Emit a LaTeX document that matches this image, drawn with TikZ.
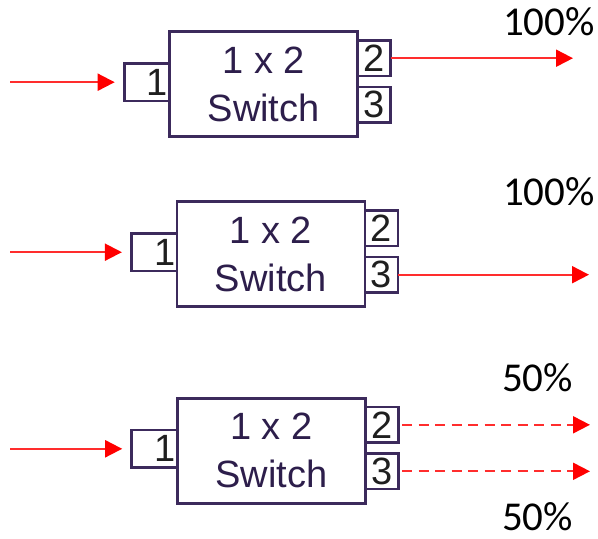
\documentclass[tikz,border=0pt]{standalone}
\usepackage{fontspec}
\setmainfont{Liberation Sans}
\newfontfamily\calib{Carlito}
\usetikzlibrary{arrows.meta}
\definecolor{boxline}{RGB}{60,42,92}
\definecolor{boxtext}{RGB}{45,30,75}
\definecolor{arrowred}{RGB}{255,0,0}
\definecolor{linered}{RGB}{255,45,45}
\tikzset{
  switchbox/.style={draw=boxline, line width=2.7pt, fill=white, outer sep=0pt,
    minimum width=188pt, minimum height=105pt, inner sep=0pt, align=center,
    text=boxtext, font=\fontsize{38}{48}\selectfont},
  inport/.style={draw=boxline, line width=2.7pt, fill=white, outer sep=0pt,
    minimum width=45.5pt, minimum height=37.5pt, inner sep=0pt, text width=42pt,
    align=right, font=\fontsize{38}{38}\selectfont, text=black!88},
  outport/.style={draw=boxline, line width=2.7pt, fill=white, outer sep=0pt,
    minimum width=33pt, minimum height=35.5pt, inner sep=0pt,
    font=\fontsize{38}{38}\selectfont, text=black!88},
  beam/.style={draw=linered, line width=2pt,
    -{Triangle[length=17pt,width=17pt,color=arrowred]}},
  splitbeam/.style={beam, dash pattern=on 10pt off 6.5pt},
  pct/.style={anchor=base west, inner sep=0pt, font=\calib\fontsize{41}{41}\selectfont},
}
\begin{document}
\begin{tikzpicture}[x=1pt,y=-1pt]
\useasboundingbox (0,0) rectangle (598,539);

% top switch
\node[switchbox] (A) at (263.7,84.2) {1 x 2\\Switch};
\node[inport, anchor=east] (a1) at ([yshift=2pt]A.west) {1};
\node[outport, anchor=west] (a2) at ([yshift=26pt]A.east) {2};
\node[outport, anchor=west] (a3) at ([yshift=-20.5pt]A.east) {3};

% middle switch
\node[switchbox] (B) at (270.9,254.2) {1 x 2\\Switch};
\node[inport, anchor=east] (b1) at ([yshift=2pt]B.west) {1};
\node[outport, anchor=west] (b2) at ([yshift=26pt]B.east) {2};
\node[outport, anchor=west] (b3) at ([yshift=-20.5pt]B.east) {3};

% bottom switch
\node[switchbox] (C) at (271.2,450.8) {1 x 2\\Switch};
\node[inport, anchor=east] (c1) at ([yshift=2pt]C.west) {1};
\node[outport, anchor=west] (c2) at ([yshift=26pt]C.east) {2};
\node[outport, anchor=west] (c3) at ([yshift=-20.5pt]C.east) {3};

% labels
\node[pct] (ta) at (503,35) {100\%};
\node[pct] (tb) at (503,205) {100\%};
\node[pct] (tc2) at (502,391) {50\%};
\node[pct] (tc3) at (502,530) {50\%};

% free ends
\coordinate (src) at (10,0);
\coordinate (oa) at (573,0);
\coordinate (ob) at (589,0);
\coordinate (oc) at (590,0);

% beams
\draw[beam, shorten >=9.5pt] (src |- a1.west) -- (a1.west);
\draw[beam, shorten >=9.5pt] (src |- b1.west) -- (b1.west);
\draw[beam, shorten >=9.5pt] (src |- c1.west) -- (c1.west);
\draw[beam] (a2.east) -- (a2.east -| oa);
\draw[beam] (b3.east) -- (b3.east -| ob);
\draw[splitbeam, shorten <=4pt] (c2.east) -- (c2.east -| oc);
\draw[splitbeam, shorten <=4pt] (c3.east) -- (c3.east -| oc);
\end{tikzpicture}
\end{document}
